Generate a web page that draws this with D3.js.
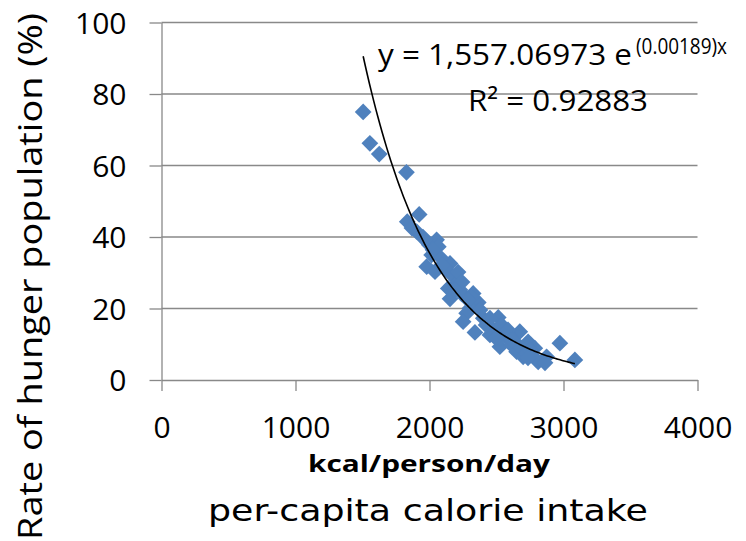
<!DOCTYPE html>
<html>
<head>
<meta charset="utf-8">
<script src="https://cdn.jsdelivr.net/npm/d3@7"></script>
<style>
  html, body { margin: 0; padding: 0; background: #fff; }
  svg { display: block; }
</style>
</head>
<body>
<svg id="chart" width="746" height="541"></svg>
<script>
// Per-capita calorie supply (kcal/person/day) and share of undernourished population (%)
const kcal = [1505, 1555, 1625, 1828, 1834, 1923, 1904, 1951, 2053, 1998,
              2066, 2016, 1979, 2041, 2153, 2166, 2203, 2140, 2153, 2240,
              2326, 2364, 2302, 2277, 2251, 2339, 2401, 2513, 2475, 2538,
              2562, 2525, 2612, 2674, 2650, 2736, 2699, 2786, 2811, 2874,
              2973, 3085, 2086, 2116, 2228, 2451, 2615, 2526, 2675, 2724,
              2799, 2314, 1869, 1966, 2026, 2093, 2213, 2243, 2190, 2287,
              2377, 2422, 2451, 2496, 2586, 2616, 2750, 2735, 2862];
const hunger = [75.0, 66.2, 63.2, 58.1, 44.3, 46.3, 41.5, 40.0, 39.2, 37.8,
                37.3, 35.0, 31.7, 30.3, 32.6, 29.4, 27.0, 25.6, 22.7, 24.1,
                24.2, 21.7, 20.1, 18.7, 16.3, 13.3, 17.3, 17.5, 14.2, 15.4,
                12.4, 9.3, 9.8, 13.5, 7.9, 10.7, 6.5, 8.9, 5.1, 6.5,
                10.3, 5.6, 34.1, 31.3, 25.2, 12.6, 11.7, 11.7, 9.3, 7.5,
                5.6, 23.2, 42.5, 39.2, 36.4, 32.2, 30.2, 27.4, 25.2, 22.4,
                19.6, 15.4, 17.3, 11.7, 14.0, 11.2, 8.4, 6.2, 4.8];

// Exponential trend: y = a * e^(k x)
const trendA = 1557.06973;
const trendK = -0.00189;
const trendLabel = "y = 1,557.06973 e";
const trendExpLabel = "(0.00189)x";
const r2Label = "R² = 0.92883";

const xTicks = [0, 1000, 2000, 3000, 4000];
const yTicks = [0, 20, 40, 60, 80, 100];

const xTitle = "kcal/person/day";
const xSubtitle = "per-capita calorie intake";
const yTitle = "Rate of hunger population (%)";

const points = kcal.map((k, i) => ({ x: k, y: hunger[i] }));

const svg = d3.select("#chart");
const x = d3.scaleLinear().domain([0, 4000]).range([161.5, 697.5]);
const y = d3.scaleLinear().domain([0, 100]).range([380, 22.5]);

const gridColor = "#898989";
const sansFont = "'Open Sans', 'Noto Sans', sans-serif";

// horizontal gridlines
svg.append("g")
  .selectAll("line")
  .data(yTicks.filter(v => v > 0))
  .join("line")
  .attr("x1", x(0)).attr("x2", x(4000))
  .attr("y1", d => y(d)).attr("y2", d => y(d))
  .attr("stroke", gridColor)
  .attr("stroke-width", 1.3);

// x axis
const xAxis = svg.append("g")
  .attr("transform", `translate(0,${y(0)})`)
  .call(d3.axisBottom(x).tickValues(xTicks).tickFormat(d3.format("d"))
    .tickSize(11).tickSizeOuter(0));
xAxis.select(".domain").attr("stroke", gridColor).attr("stroke-width", 1.3);
xAxis.selectAll(".tick line").attr("stroke", gridColor).attr("stroke-width", 1.3);
xAxis.selectAll(".tick text")
  .attr("font-family", sansFont)
  .attr("font-size", 30)
  .attr("fill", "#000")
  .attr("dy", null)
  .attr("y", 58)
  .attr("text-anchor", "middle");

// y axis
const yAxis = svg.append("g")
  .attr("transform", `translate(${x(0)},0)`)
  .call(d3.axisLeft(y).tickValues(yTicks).tickFormat(d3.format("d"))
    .tickSize(12).tickSizeOuter(0).tickPadding(23));
yAxis.select(".domain").attr("stroke", gridColor).attr("stroke-width", 1.3);
yAxis.selectAll(".tick line").attr("stroke", gridColor).attr("stroke-width", 1.3);
yAxis.selectAll(".tick text")
  .attr("font-family", sansFont)
  .attr("font-size", 30)
  .attr("fill", "#000")
  .attr("dy", "0.36em");

// markers
const diamond = d3.symbol().type(d3.symbolSquare).size(140);
svg.append("g")
  .selectAll("path")
  .data(points)
  .join("path")
  .attr("d", diamond)
  .attr("transform", d => `translate(${x(d.x)},${y(d.y)}) rotate(45)`)
  .attr("fill", "#4F81BD");

// trend curve across the data range
const xMin = d3.min(kcal), xMax = d3.max(kcal);
const trendPts = d3.range(0, 101).map(i => {
  const xv = xMin + (xMax - xMin) * i / 100;
  return [xv, trendA * Math.exp(trendK * xv)];
});
svg.append("path")
  .datum(trendPts)
  .attr("d", d3.line().x(d => x(d[0])).y(d => y(d[1])).curve(d3.curveMonotoneX))
  .attr("fill", "none")
  .attr("stroke", "#000")
  .attr("stroke-width", 1.6);

// trend equation and R²
svg.append("text")
  .attr("x", 378).attr("y", 65)
  .attr("font-family", sansFont).attr("font-size", 30)
  .attr("textLength", 254).attr("lengthAdjust", "spacingAndGlyphs")
  .text(trendLabel);
svg.append("text")
  .attr("x", 636).attr("y", 54)
  .attr("font-family", sansFont).attr("font-size", 21)
  .attr("textLength", 91).attr("lengthAdjust", "spacingAndGlyphs")
  .text(trendExpLabel);
svg.append("text")
  .attr("x", 468).attr("y", 110.7)
  .attr("font-family", sansFont).attr("font-size", 30)
  .attr("textLength", 180).attr("lengthAdjust", "spacingAndGlyphs")
  .text(r2Label);

// axis titles
svg.append("text")
  .attr("x", 308).attr("y", 472)
  .attr("font-family", sansFont).attr("font-size", 24).attr("font-weight", 700)
  .attr("textLength", 242).attr("lengthAdjust", "spacingAndGlyphs")
  .text(xTitle);
svg.append("text")
  .attr("x", 208).attr("y", 520.7)
  .attr("font-family", "'DejaVu Sans', sans-serif").attr("font-size", 31)
  .attr("textLength", 440).attr("lengthAdjust", "spacingAndGlyphs")
  .text(xSubtitle);
svg.append("text")
  .attr("transform", "translate(42,540) rotate(-90)")
  .attr("font-family", sansFont).attr("font-size", 33.5)
  .attr("textLength", 527).attr("lengthAdjust", "spacingAndGlyphs")
  .text(yTitle);
</script>
</body>
</html>
